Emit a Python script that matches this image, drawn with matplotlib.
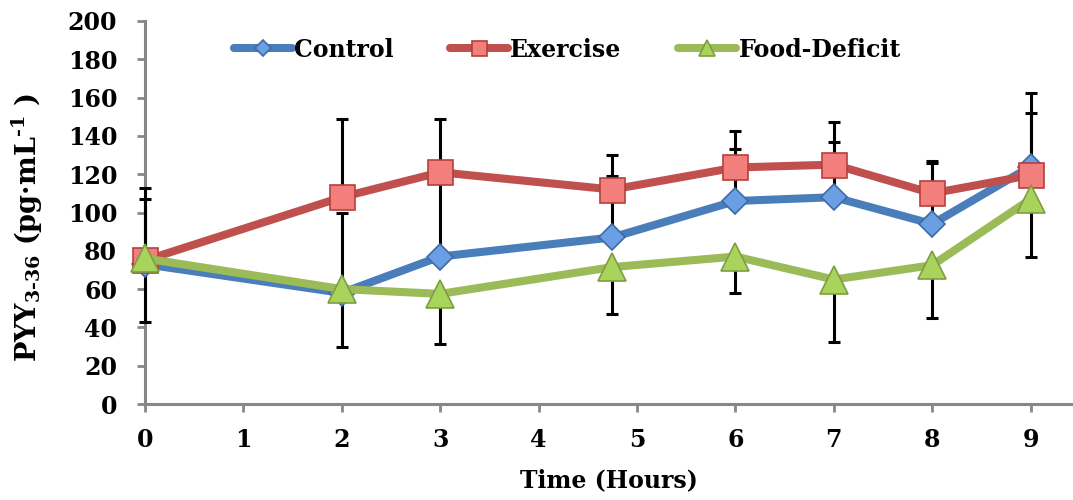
import numpy as np
import matplotlib.pyplot as plt

# time points (hours) and PYY3-36 means (pg/mL)
hours = [0, 2, 3, 4.75, 6, 7, 8, 9]
control = [73, 58, 77, 87, 106, 108, 94, 124]
exercise = [75, 108, 121, 112, 123.5, 125, 110, 119.5]
food_deficit = [76, 60, 57.5, 71.5, 77, 65, 72.5, 107]

# one-sided error bars as drawn in the figure
control_err = [34, 42, 42, 32, 27, 29, 32, 28]
exercise_err = [38, 41, 28, 18, 19, 22, 17, 43]
food_deficit_err = [33, 30, 26, 24.5, 19, 32.5, 27.5, 30]

x_ticks = [0, 1, 2, 3, 4, 5, 6, 7, 8, 9]
y_ticks = np.arange(0, 201, 20)

plt.rcParams['font.family'] = 'DejaVu Serif'
plt.rcParams['font.weight'] = 'bold'
plt.rcParams['mathtext.fontset'] = 'dejavuserif'
plt.rcParams['mathtext.default'] = 'bf'

fig = plt.figure(figsize=(10.73, 5), dpi=100)
ax = fig.add_axes([0.1351, 0.192, 0.8649, 0.766])

series = [
    ('Control', control, control_err, 'upper', '#4a7ebb', 'D', '#6b9fe3', '#3d6aa6', 13.5),
    ('Exercise', exercise, exercise_err, 'upper', '#c0504d', 's', '#f27f7c', '#b5403d', 18),
    ('Food-Deficit', food_deficit, food_deficit_err, 'lower', '#9bbb59', '^', '#a9d45c', '#7f9c42', 20),
]

zero = [0] * len(hours)
for name, vals, err, side, col, mk, fill, edge, ms in series:
    yerr = [zero, err] if side == 'upper' else [err, zero]
    eb = ax.errorbar(hours, vals, yerr=yerr, fmt='none', ecolor='black',
                     elinewidth=2.2, capsize=4.5, capthick=2.2, zorder=3)
    for art in eb.lines[1] + eb.lines[2]:
        art.set_clip_on(False)

z = 4
for name, vals, err, side, col, mk, fill, edge, ms in series:
    ax.plot(hours, vals, color=col, lw=5.8, marker=mk, markersize=ms,
            markerfacecolor=fill, markeredgecolor=edge, markeredgewidth=1.2,
            label=name, zorder=z, solid_capstyle='round', clip_on=False)
    z += 1

ax.set_xlim(0, 9.43)
ax.set_ylim(0, 200)
ax.set_xticks(x_ticks)
ax.set_yticks(y_ticks)
ax.tick_params(axis='both', labelsize=17, color='#878787', width=2, length=6,
               direction='out')
ax.tick_params(axis='y', pad=14)
ax.tick_params(axis='x', pad=11)

for s in ['top', 'right']:
    ax.spines[s].set_visible(False)
for s in ['left', 'bottom']:
    ax.spines[s].set_color('#878787')
    ax.spines[s].set_linewidth(2.2)
    ax.spines[s].set_zorder(2)

ax.set_xlabel('Time (Hours)', fontsize=17, fontweight='bold', labelpad=12)
ax.set_ylabel(r'PYY$_{3\text{-}36}$ (pg·mL$^{\text{-}1}$ )', fontsize=19.5,
              fontweight='bold')
ax.yaxis.set_label_coords(-0.108, 0.46)

ax.legend(loc='center', bbox_to_anchor=(0.455, 0.925), ncol=3, frameon=False,
          fontsize=17, handlelength=2.45, handletextpad=0.1, columnspacing=2.4,
          markerscale=0.6)

fig.savefig('out.png', dpi=100)
